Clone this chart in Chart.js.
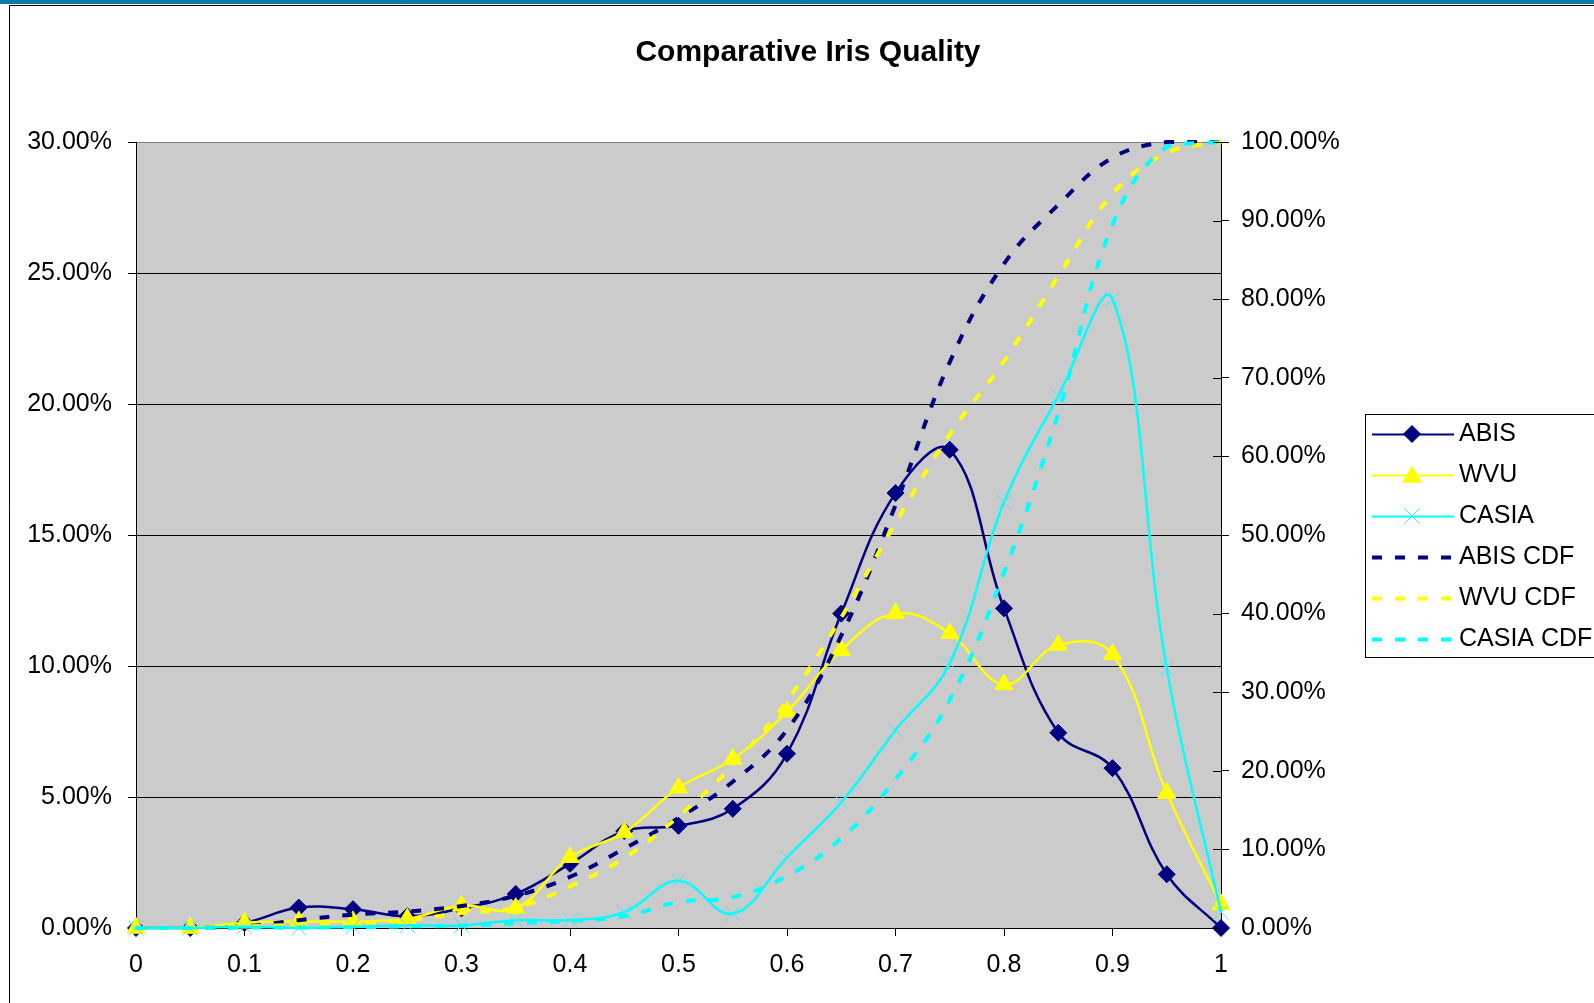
<!DOCTYPE html>
<html>
<head>
<meta charset="utf-8">
<script src="https://cdn.jsdelivr.net/npm/chart.js@4"></script>
<style>
  html, body { margin: 0; padding: 0; background: #ffffff; }
  canvas { display: block; }
</style>
</head>
<body>
<canvas id="c" width="1594" height="1003"></canvas>
<script>
// ---- Data (values in percent) ----
const xValues = [0, 0.05, 0.1, 0.15, 0.2, 0.25, 0.3, 0.35, 0.4, 0.45, 0.5, 0.55, 0.6, 0.65, 0.7, 0.75, 0.8, 0.85, 0.9, 0.95, 1];
const abis    = [0, 0, 0.2, 0.78, 0.72, 0.45, 0.75, 1.3, 2.45, 3.7, 3.9, 4.55, 6.65, 12.0, 16.6, 18.25, 12.2, 7.45, 6.1, 2.05, 0];
const wvu     = [0, 0, 0.2, 0.25, 0.25, 0.35, 0.85, 0.75, 2.7, 3.65, 5.35, 6.45, 8.25, 10.6, 12.0, 11.25, 9.3, 10.8, 10.45, 5.15, 0.9];
const casia   = [0, 0, 0.05, 0, 0.05, 0.1, 0.1, 0.3, 0.3, 0.6, 1.8, 0.55, 2.7, 4.8, 7.55, 10.1, 16.25, 20.3, 24.0, 9.9, 0.6];
const abisCdf  = [0, 0, 0.2, 1.0, 1.7, 2.1, 2.8, 4.1, 6.5, 10.1, 14.0, 18.6, 25.2, 37.2, 53.8, 72.0, 84.5, 92.0, 98.0, 100, 100];
const wvuCdf   = [0, 0, 0.2, 0.4, 0.6, 1.0, 1.9, 2.6, 5.3, 8.9, 14.2, 20.7, 28.9, 39.5, 51.5, 62.8, 72.1, 82.9, 93.4, 98.6, 100];
const casiaCdf = [0, 0, 0.05, 0.05, 0.1, 0.2, 0.3, 0.6, 0.9, 1.5, 3.3, 3.9, 6.6, 11.4, 18.9, 29.0, 45.2, 65.5, 89.5, 99.4, 100];
const seriesNames = ['ABIS', 'WVU', 'CASIA', 'ABIS CDF', 'WVU CDF', 'CASIA CDF'];
const titleText = 'Comparative Iris Quality';

const NAVY = '#000080', YEL = '#FFFF00', CYAN = '#00FFFF';
const FONT = '"Liberation Sans", Arial, sans-serif';

const pts = arr => xValues.map((x, i) => ({ x: x, y: arr[i] }));
const T = 0.4;

const datasets = [
  { label: seriesNames[0], data: pts(abis), yAxisID: 'y', borderColor: NAVY, backgroundColor: NAVY,
    borderWidth: 2.5, pointStyle: 'rectRot', pointRadius: 8.5, pointBorderWidth: 1,
    pointBackgroundColor: NAVY, pointBorderColor: NAVY, tension: T, order: 6, clip: false, fill: false },
  { label: seriesNames[1], data: pts(wvu), yAxisID: 'y', borderColor: YEL, backgroundColor: YEL,
    borderWidth: 2.5, pointStyle: 'triangle', pointRadius: 10.5, pointBorderWidth: 1,
    pointBackgroundColor: YEL, pointBorderColor: YEL, tension: T, order: 5, clip: false, fill: false },
  { label: seriesNames[2], data: pts(casia), yAxisID: 'y', borderColor: CYAN, backgroundColor: CYAN,
    borderWidth: 2.5, pointStyle: 'crossRot', pointRadius: 10.5, pointBorderWidth: 1,
    pointBackgroundColor: '#40E8FF', pointBorderColor: '#40E8FF', tension: T, order: 4, clip: false, fill: false },
  { label: seriesNames[3], data: pts(abisCdf), yAxisID: 'y2', borderColor: NAVY, borderWidth: 4,
    borderDash: [10, 13], pointRadius: 0, tension: T, order: 3, clip: false, fill: false },
  { label: seriesNames[4], data: pts(wvuCdf), yAxisID: 'y2', borderColor: YEL, borderWidth: 4,
    borderDash: [10, 13], pointRadius: 0, tension: T, order: 2, clip: false, fill: false },
  { label: seriesNames[5], data: pts(casiaCdf), yAxisID: 'y2', borderColor: CYAN, borderWidth: 4,
    borderDash: [10, 13], pointRadius: 0, tension: T, order: 1, clip: false, fill: false }
];

function drawMarker(ctx, style, r, x, y, fill, stroke) {
  ctx.save();
  ctx.fillStyle = fill; ctx.strokeStyle = stroke; ctx.lineWidth = 1;
  ctx.beginPath();
  if (style === 'rectRot') {
    ctx.moveTo(x - r, y); ctx.lineTo(x, y - r); ctx.lineTo(x + r, y); ctx.lineTo(x, y + r); ctx.closePath();
    ctx.fill(); ctx.stroke();
  } else if (style === 'triangle') {
    ctx.moveTo(x, y - r); ctx.lineTo(x + r * 0.866, y + r * 0.5); ctx.lineTo(x - r * 0.866, y + r * 0.5); ctx.closePath();
    ctx.fill(); ctx.stroke();
  } else if (style === 'crossRot') {
    const d = r * Math.SQRT1_2;
    ctx.moveTo(x - d, y - d); ctx.lineTo(x + d, y + d);
    ctx.moveTo(x + d, y - d); ctx.lineTo(x - d, y + d);
    ctx.stroke();
  }
  ctx.restore();
}

const decor = {
  id: 'decor',
  beforeDraw(chart) {
    const ctx = chart.ctx, a = chart.chartArea;
    ctx.save();
    ctx.fillStyle = '#ffffff';
    ctx.fillRect(0, 0, chart.width, chart.height);
    ctx.fillStyle = '#0A78AA';
    ctx.fillRect(0, 0, chart.width, 4);
    ctx.strokeStyle = '#000000'; ctx.lineWidth = 1;
    ctx.beginPath();
    ctx.moveTo(9.5, 5.5); ctx.lineTo(chart.width, 5.5);
    ctx.moveTo(9.5, 5.5); ctx.lineTo(9.5, chart.height);
    ctx.stroke();
    ctx.fillStyle = '#CBCBCB';
    ctx.fillRect(a.left, a.top, a.right - a.left, a.bottom - a.top);
    ctx.restore();
  },
  afterDraw(chart) {
    const ctx = chart.ctx, a = chart.chartArea;
    ctx.save();
    // inward half of the right axis cross ticks
    const y2 = chart.scales.y2;
    ctx.strokeStyle = '#000000'; ctx.lineWidth = 1;
    ctx.beginPath();
    y2.ticks.forEach(t => {
      const py = Math.round(y2.getPixelForValue(t.value)) + 0.5;
      ctx.moveTo(a.right - 8, py); ctx.lineTo(a.right, py);
    });
    ctx.stroke();

    // title
    ctx.fillStyle = '#000000';
    ctx.font = 'bold 30px ' + FONT;
    ctx.textAlign = 'center'; ctx.textBaseline = 'alphabetic';
    ctx.fillText(titleText, 808, 61);

    // legend
    const lx = 1365.5, ly = 414.5;
    ctx.fillStyle = '#ffffff';
    ctx.fillRect(lx, ly, 260, 243);
    ctx.strokeStyle = '#000000'; ctx.lineWidth = 1;
    ctx.strokeRect(lx, ly, 260, 243);
    ctx.font = '25px ' + FONT;
    ctx.textAlign = 'left'; ctx.textBaseline = 'middle';
    chart.data.datasets.forEach((ds, i) => {
      const cy = 434 + i * 41;
      ctx.save();
      ctx.strokeStyle = ds.borderColor;
      if (ds.borderDash) {
        ctx.lineWidth = 4; ctx.setLineDash(ds.borderDash);
      } else {
        ctx.lineWidth = 2;
      }
      ctx.beginPath();
      ctx.moveTo(1372, cy + 0.5); ctx.lineTo(1454, cy + 0.5);
      ctx.stroke();
      ctx.restore();
      if (ds.pointRadius > 0) {
        drawMarker(ctx, ds.pointStyle, ds.pointRadius, 1412, ds.pointStyle === 'triangle' ? cy + 2 : cy,
                   ds.pointBackgroundColor, ds.pointBorderColor);
      }
      ctx.fillStyle = '#000000';
      ctx.fillText(ds.label, 1459, cy);
    });
    ctx.restore();
  }
};

const tickFont = { family: FONT, size: 25 };

new Chart(document.getElementById('c'), {
  type: 'line',
  data: { datasets: datasets },
  plugins: [decor],
  options: {
    responsive: false,
    animation: false,
    devicePixelRatio: 1,
    layout: { padding: { top: 142, left: 0, right: 0, bottom: 0 } },
    plugins: { legend: { display: false }, title: { display: false }, tooltip: { enabled: false } },
    scales: {
      x: {
        type: 'linear', position: 'bottom', min: 0, max: 1,
        ticks: { stepSize: 0.1, color: '#000', font: tickFont, padding: 14, maxRotation: 0,
                 callback: v => String(Math.round(v * 10) / 10) },
        grid: { drawOnChartArea: false, tickLength: 8, color: '#000', lineWidth: 1 },
        border: { color: '#000', width: 1 },
        afterFit: s => { s.height = 75; }
      },
      y: {
        position: 'left', min: 0, max: 30,
        ticks: { stepSize: 5, color: '#000', font: tickFont, padding: 16,
                 callback: v => v.toFixed(2) + '%' },
        grid: { color: c => (c.tick && c.tick.value === 30) ? '#808080' : '#000000',
                tickColor: '#000', tickLength: 8, lineWidth: 1 },
        border: { color: '#000', width: 1 },
        afterFit: s => { s.width = 136; }
      },
      y2: {
        position: 'right', min: 0, max: 100,
        ticks: { stepSize: 10, color: '#000', font: tickFont, padding: 12,
                 callback: v => v.toFixed(2) + '%' },
        grid: { drawOnChartArea: false, tickLength: 8, color: '#000', lineWidth: 1 },
        border: { color: '#000', width: 1 },
        afterFit: s => { s.width = 373; }
      }
    }
  }
});
</script>
</body>
</html>
